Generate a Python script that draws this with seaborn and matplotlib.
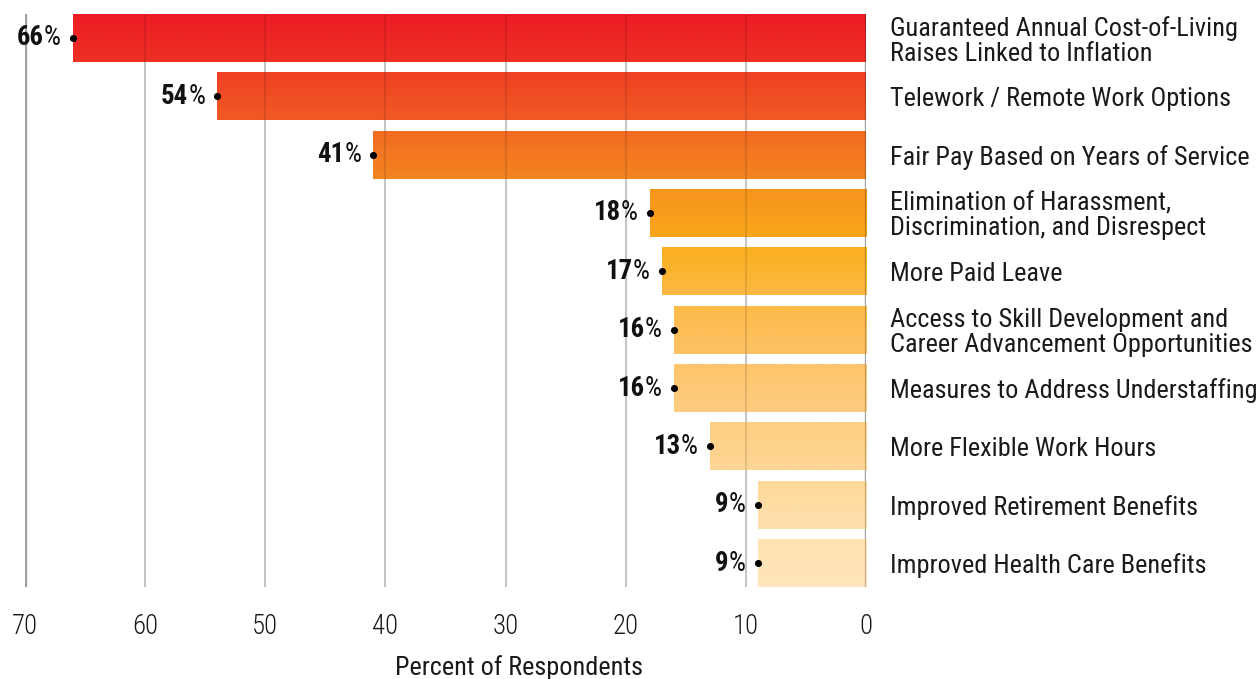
import matplotlib
matplotlib.use("Agg")
import matplotlib.pyplot as plt
import matplotlib.colors as mcolors
import numpy as np
import pandas as pd
import seaborn as sns

# Survey results: share of respondents choosing each priority
categories = [
    "Guaranteed Annual Cost-of-Living\nRaises Linked to Inflation",
    "Telework / Remote Work Options",
    "Fair Pay Based on Years of Service",
    "Elimination of Harassment,\nDiscrimination, and Disrespect",
    "More Paid Leave",
    "Access to Skill Development and\nCareer Advancement Opportunities",
    "Measures to Address Understaffing",
    "More Flexible Work Hours",
    "Improved Retirement Benefits",
    "Improved Health Care Benefits",
]
percents = [66, 54, 41, 18, 17, 16, 16, 13, 9, 9]
x_ticks = [70, 60, 50, 40, 30, 20, 10, 0]

# Top / bottom colour of the vertical gradient inside each bar
grad_top = ["#ED1C24", "#EF4123", "#F26B22", "#F7941D", "#FBB01F",
            "#FDBB48", "#FDC46A", "#FECE82", "#FED99A", "#FEE2B0"]
grad_bottom = ["#EE3124", "#F15A24", "#F58520", "#F9A61B", "#FCB844",
               "#FDC266", "#FDCD80", "#FED695", "#FEE0AD", "#FFE6BC"]

sns.set_theme(style="white")
FONT = "Roboto Condensed"
plt.rcParams["font.family"] = [FONT, "DejaVu Sans"]
FS = 18.9

df = pd.DataFrame({"category": categories, "percent": percents})

fig = plt.figure(figsize=(12.6, 6.79), dpi=100)
ax = fig.add_axes([25 / 1260, 1 - 587 / 679, 841 / 1260, 573 / 679])

bar_h = 0.82
sns.barplot(data=df, x="percent", y="category", orient="h", ax=ax,
            palette=grad_top, hue="category", legend=False,
            width=bar_h, saturation=1, linewidth=0, zorder=2)

# Replace flat fills with vertical gradients clipped to each bar
for i, patch in enumerate(ax.patches):
    x0, y0 = patch.get_x(), patch.get_y()
    w, h = patch.get_width(), patch.get_height()
    c0 = np.array(mcolors.to_rgb(grad_top[i]))
    c1 = np.array(mcolors.to_rgb(grad_bottom[i]))
    t = np.linspace(0, 1, 64)[:, None, None]
    img = c0 * (1 - t) + c1 * t
    im = ax.imshow(img, extent=(x0, x0 + w, y0 + h, y0), origin="upper",
                   aspect="auto", interpolation="bilinear", zorder=2)
    im.set_clip_path(patch)
    patch.set_facecolor("none")

ax.set_xlim(70, 0)
ax.set_ylim(9 + bar_h / 2, -bar_h / 2)

# Vertical gridlines: light grey behind the bars, faint shade over them
for xv in x_ticks:
    edge = xv in (0, 70)
    lw = 2.4 if edge else 1.5
    ax.axvline(xv, color="#d0d0d0" if edge else "#dcdcdc", lw=lw, zorder=1)
    ax.axvline(xv, color="black", alpha=0.22 if edge else 0.1, lw=lw, zorder=3)

for s in ax.spines.values():
    s.set_visible(False)

ax.set_xticks(x_ticks)
ax.set_xticklabels([str(v) for v in x_ticks], fontsize=FS + 0.4, fontweight="light",
                   color="#1a1a1a")
ax.tick_params(axis="x", length=0, pad=19)

# Category labels on the right
ax.yaxis.tick_right()
ax.set_yticks(range(len(categories)))
ax.set_yticklabels(categories, fontsize=FS, color="#1a1a1a",
                   linespacing=1.05, ha="left")
ax.tick_params(axis="y", length=0, pad=17)
ax.set_ylabel("")

ax.set_xlabel("Percent of Respondents", fontsize=FS, color="#1a1a1a")
ax.xaxis.set_label_coords(0.587, -0.118)

# Dots at the bar ends and value labels (bold number, regular %)
ax.scatter(percents, range(len(percents)), s=26, color="black", zorder=5,
           clip_on=False, linewidths=0)

fig.canvas.draw()
renderer = fig.canvas.get_renderer()
for i, v in enumerate(percents):
    pct = ax.annotate("%", xy=(v, i), xytext=(-12, 0), textcoords="offset pixels",
                      ha="right", va="center", fontsize=FS + 0.4, color="#111111",
                      annotation_clip=False)
    bb = pct.get_window_extent(renderer)
    ax.annotate(str(v), xy=(v, i), xytext=(-12 - bb.width, 0),
                textcoords="offset pixels", ha="right", va="center",
                fontsize=FS + 0.4, fontweight="bold", color="#111111",
                annotation_clip=False)

fig.savefig("out.png", dpi=100)
